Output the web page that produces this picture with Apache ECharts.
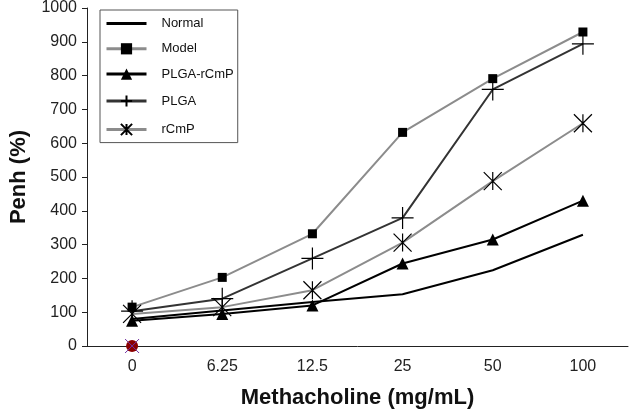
<!DOCTYPE html>
<html><head><meta charset="utf-8">
<script src="https://cdn.jsdelivr.net/npm/echarts@6/dist/echarts.min.js"></script>
<style>html,body{margin:0;padding:0;background:#fff}#c{width:630px;height:418px}</style>
</head><body><div id="c"></div>
<script>
const categories = ['0','6.25','12.5','25','50','100'];
const yTicks = [0,100,200,300,400,500,600,700,800,900,1000];
const normal   = [80, 105, 130, 153, 224, 329];
const model    = [115, 203, 332, 632, 791, 929];
const plgaRcmp = [75, 95, 120, 244, 315, 430];
const plga     = [103, 140, 259, 379, 759, 894];
const rcmp     = [95, 115, 165, 306, 488, 659];
const outlier  = [0, null, null, null, null, null];

const PLUS = 'path://M0,10 L20,10 M10,0 L10,20';
const AST = 'path://M0,0 L20,20 M20,0 L0,20 M10,0 L10,20';
const FONT = 'Liberation Sans, Arial, sans-serif';

function line(name, data, color, width, symbol, size, symColor, border, show) {
  return {
    name, type: 'line', data, symbol, symbolSize: size, showSymbol: show !== false,
    lineStyle: { color, width },
    itemStyle: border ? { color: 'none', borderColor: symColor, borderWidth: 1.2 } : { color: symColor, borderWidth: 0 },
    emphasis: { disabled: true }, z: 3, animation: false
  };
}

const chart = echarts.init(document.getElementById('c'));
chart.setOption({
  animation: false,
  grid: { left: 83, right: 2, top: 6, bottom: 72 },
  legend: {
    data: [{ name: 'Normal', itemStyle: { opacity: 0 } }, 'Model', 'PLGA-rCmP', 'PLGA', 'rCmP'],
    orient: 'vertical', left: 100, top: 10,
    padding: [7, 4, 5, 5], itemGap: 12.3, itemWidth: 40, itemHeight: 14,
    borderColor: '#555', borderWidth: 1,
    lineStyle: { width: 3 },
    textStyle: { fontFamily: FONT, fontSize: 13, color: '#111', padding: [0, 0, 0, 10] }
  },
  xAxis: {
    type: 'category', data: categories, boundaryGap: true,
    axisLine: { lineStyle: { color: '#222', width: 1 } },
    axisTick: { alignWithLabel: false, length: 5, lineStyle: { color: '#222' } },
    axisLabel: { fontFamily: FONT, fontSize: 16, color: '#222', margin: 13 },
    name: 'Methacholine (mg/mL)', nameLocation: 'middle', nameGap: 41,
    nameTextStyle: { fontFamily: FONT, fontSize: 22, fontWeight: 'bold', color: '#111' }
  },
  yAxis: {
    type: 'value', min: yTicks[0], max: yTicks[yTicks.length-1], interval: 100,
    splitLine: { show: false },
    axisLine: { show: true, lineStyle: { color: '#222', width: 1 } },
    axisTick: { show: true, length: 5, lineStyle: { color: '#222' } },
    axisLabel: { fontFamily: FONT, fontSize: 16, color: '#222', margin: 10, formatter: v => String(v) },
    name: 'Penh (%)', nameLocation: 'middle', nameGap: 57, nameRotate: 90,
    nameTextStyle: { fontFamily: FONT, fontSize: 22, fontWeight: 'bold', color: '#111' }
  },
  series: [
    line('Normal', normal, '#000', 2, 'circle', 4, '#000', false, false),
    line('Model', model, '#8c8c8c', 2, 'rect', 9, '#000', false),
    line('PLGA-rCmP', plgaRcmp, '#000', 2, 'triangle', 12, '#000', false),
    line('PLGA', plga, '#333', 2, PLUS, 22, '#000', true),
    line('rCmP', rcmp, '#8c8c8c', 2, AST, 18, '#000', true),
    { name: 'pt', type: 'line', data: outlier, symbol: 'circle', symbolSize: 12,
      lineStyle: { width: 0 }, itemStyle: { color: '#8b0000' }, z: 4 },
    { name: 'pt2', type: 'line', data: outlier, symbol: 'path://M0,0 L20,20 M20,0 L0,20', symbolSize: 14,
      lineStyle: { width: 0 }, itemStyle: { color: 'none', borderColor: '#7030a0', borderWidth: 1 }, z: 5 }
  ]
});
</script></body></html>
